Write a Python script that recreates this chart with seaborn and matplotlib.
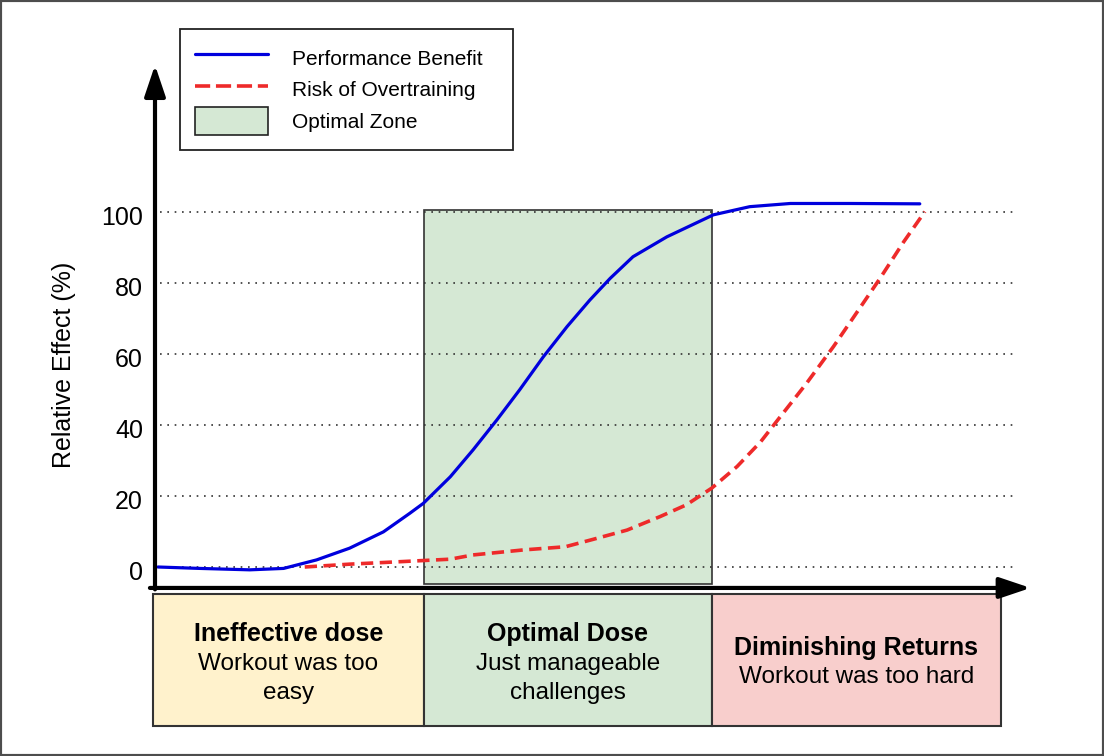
import matplotlib
matplotlib.use("Agg")
import matplotlib.pyplot as plt
import seaborn as sns
import pandas as pd
from matplotlib.patches import Rectangle
from matplotlib.lines import Line2D

sns.set_theme(style="white")
plt.rcParams['font.family'] = ['Liberation Sans', 'DejaVu Sans']
plt.rcParams['text.color'] = 'black'

# ---- data (dose on 0..100 scale, effect in %) ----
benefit_dose = [0.35, 5.3, 11.2, 15.2, 19.1, 23.0, 27.0, 30.1, 31.7, 34.9, 37.6,
                40.4, 43.1, 45.9, 48.7, 51.4, 53.8, 56.5, 60.5, 66.0, 70.3,
                75.1, 82.2, 90.4]
benefit_val = [0.0, -0.4, -0.8, -0.4, 2.0, 5.3, 9.9, 15.1, 17.9, 25.4, 33.0,
               41.4, 49.9, 59.2, 67.7, 75.2, 81.3, 87.4, 93.0, 99.2, 101.5,
               102.4, 102.4, 102.3]
risk_dose = [17.7, 23.0, 29.0, 34.9, 37.6, 43.5, 48.5, 51.8, 55.8, 59.7, 62.8,
             65.8, 68.8, 71.6, 73.9, 77.0, 80.2, 82.9, 85.7, 88.5, 91.0]
risk_val = [0.0, 0.8, 1.5, 2.2, 3.4, 4.8, 5.7, 7.8, 10.4, 14.2, 17.5,
            22.2, 28.3, 35.3, 42.3, 51.7, 62.1, 71.5, 81.3, 91.6, 100.1]
yticks = [0, 20, 40, 60, 80, 100]
zone_edges = [-0.24, 31.8, 65.8, 100.0]
zone_titles = ["Ineffective dose", "Optimal Dose", "Diminishing Returns"]
zone_subtitles = ["Workout was too\neasy", "Just manageable\nchallenges", "Workout was too hard"]
zone_colors = ["#fff2cc", "#d5e8d4", "#f8cecc"]
optimal_zone = (31.8, 65.8)
series_labels = ["Performance Benefit", "Risk of Overtraining", "Optimal Zone"]

df_b = pd.DataFrame({"dose": benefit_dose, "effect": benefit_val})
df_r = pd.DataFrame({"dose": risk_dose, "effect": risk_val})

fig = plt.figure(figsize=(11.04, 7.56), dpi=100)
ax = fig.add_axes([0, 0, 1, 1])
ax.set_xlim(-155 / 8.46, (1104 - 155) / 8.46)
ax.set_ylim(-(756 - 567) / 3.55, 567 / 3.55)
ax.axis("off")

# optimal zone rectangle
ax.add_patch(Rectangle((optimal_zone[0], -4.8), optimal_zone[1] - optimal_zone[0], 105.4,
                       facecolor="#d5e8d4", edgecolor="#333333", lw=1.2, zorder=1))

# dotted gridlines and tick labels
for t in yticks:
    ax.plot([0.6, 101.4], [t, t], color="#333333", lw=1.2,
            linestyle=(0, (1, 3.4)), zorder=2)
    ax.text(-1.42, t - 1.8, str(t), ha="right", va="center", fontsize=18, color="black")

ax.text(-10.8, 56.9, "Relative Effect (%)", rotation=90, ha="center", va="center",
        fontsize=18, color="black")

# curves
sns.lineplot(data=df_b, x="dose", y="effect", ax=ax, color="#0000dd", lw=2.3,
             sort=False, zorder=4, legend=False)
sns.lineplot(data=df_r, x="dose", y="effect", ax=ax, color="#ee2a2a", lw=2.6,
             linestyle=(0, (3.4, 1.8)), sort=False, zorder=4, legend=False)

# axes arrows
arrow_kw = dict(arrowstyle="-|>,head_length=0.95,head_width=0.32", lw=3, color="black",
                shrinkA=0, shrinkB=0, mutation_scale=20)
ax.annotate("", xy=(0, 141.4), xytext=(0, -6.3), arrowprops=arrow_kw, zorder=5)
ax.annotate("", xy=(103.5, -5.9), xytext=(-0.6, -5.9), arrowprops=arrow_kw, zorder=5)

# zone boxes under the axis
for i in range(3):
    x0, x1 = zone_edges[i], zone_edges[i + 1]
    ax.add_patch(Rectangle((x0, -44.8), x1 - x0, 37.2, facecolor=zone_colors[i],
                           edgecolor="#333333", lw=1.5, zorder=3))
    xc = (x0 + x1) / 2
    if i < 2:
        ty, sy = -18.8, -24.2
    else:
        ty, sy = -22.8, -28.0
    ax.text(xc, ty, zone_titles[i], ha="center", va="center", fontsize=18,
            fontweight="bold", color="black", zorder=6)
    ax.text(xc, sy, zone_subtitles[i], ha="center", va="top", fontsize=17.5,
            color="black", linespacing=1.42, zorder=6)

# legend
handles = [Line2D([], [], color="#0000dd", lw=2.3),
           Line2D([], [], color="#ee2a2a", lw=2.6, linestyle=(0, (4.2, 1.6))),
           Rectangle((0, 0), 1, 1, facecolor="#d5e8d4", edgecolor="#222222", lw=1.2)]
leg = ax.legend(handles, series_labels, loc="upper left",
                bbox_to_anchor=(180 / 1104, 1 - 149 / 756, 333 / 1104, 120 / 756),
                bbox_transform=fig.transFigure, mode="expand", borderaxespad=0,
                fontsize=15, handlelength=3.5, handleheight=1.7, handletextpad=1.15,
                labelspacing=0.17, borderpad=0.72, fancybox=False, framealpha=1,
                edgecolor="#222222", labelcolor="black")
leg.get_frame().set_linewidth(1.3)

# outer frame
fig.patches.append(Rectangle((0, 0), 1, 1, transform=fig.transFigure, fill=False,
                             edgecolor="#4d4d4d", lw=3, zorder=10))

fig.savefig("out.png", dpi=100)
